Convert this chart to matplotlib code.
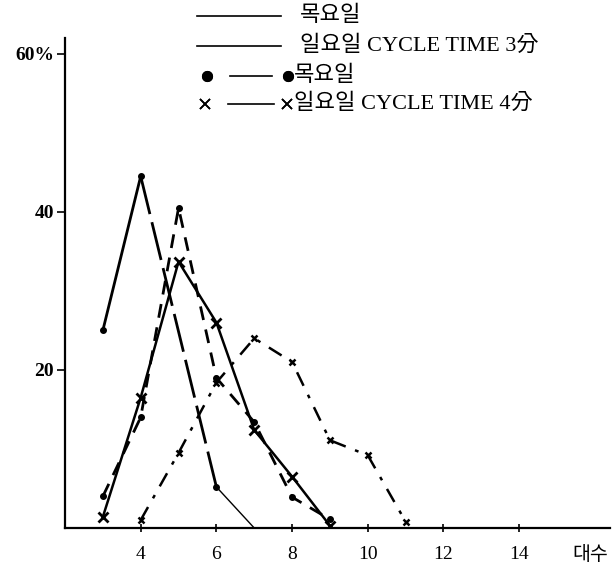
"""
Share of trips by number of vehicles (대수), thursday vs sunday,
for cycle time 3 and 4 minutes. Recreated from a scanned figure.
"""
import matplotlib
matplotlib.use('Agg')
import matplotlib.pyplot as plt

FONTS = ['Liberation Serif', 'Noto Sans CJK KR']

# thursday, cycle time 3 min (solid, small dots)
thu3_x = [3, 4, 6, 7]
thu3_y = [25, 44.5, 5.2, 0]
# sunday, cycle time 3 min (dash-dot)
sun3_x = [4, 5, 6, 7, 8, 9, 10, 11]
sun3_y = [1, 9.5, 18.4, 24, 21, 11.1, 9.2, 0.8]
# thursday, cycle time 4 min (dashed, dots)
thu4_x = [3, 4, 5, 6, 7, 8, 9]
thu4_y = [4, 14, 40.5, 19, 13.4, 3.9, 1.1]
# sunday, cycle time 4 min (solid, crosses)
sun4_x = [3, 4, 5, 6, 7, 8, 9]
sun4_y = [1.4, 16.5, 33.7, 26, 12.4, 6.5, 0.3]

xticks = [4, 6, 8, 10, 12, 14]
yticks = [20, 40, 60]
ytick_labels = ['20', '40', '60%']

W, H = 613, 568
fig = plt.figure(figsize=(W / 100, H / 100), dpi=100)
ax = fig.add_axes([65 / W, 1 - 528 / H, 545 / W, 490 / H])
ax.set_xlim(2, 16.4)
ax.set_ylim(0, 62)

k = 'black'
# thursday 3 min: solid up, long dash down, thin tail
ax.plot(thu3_x[:2], thu3_y[:2], color=k, lw=2)
ax.plot(thu3_x[1:3], thu3_y[1:3], color=k, lw=2, dashes=(14, 3))
ax.plot(thu3_x[2:], thu3_y[2:], color=k, lw=1)
ax.plot(thu3_x[:3], thu3_y[:3], 'o', color=k, ms=4)

ax.plot(sun3_x, sun3_y, color=k, lw=1.8, dashes=(6, 4, 1.5, 4),
        marker='x', ms=5, mew=1.8)
ax.plot(thu4_x, thu4_y, color=k, lw=2, dashes=(5, 3.5),
        marker='o', ms=4)
ax.plot(sun4_x, sun4_y, color=k, lw=1.8, marker='x', ms=7, mew=2)

for s in ['top', 'right']:
    ax.spines[s].set_visible(False)
for s in ['left', 'bottom']:
    ax.spines[s].set_linewidth(1.6)
ax.set_xticks(xticks)
ax.set_xticklabels([str(t) for t in xticks], family=FONTS, fontsize=14)
ax.set_yticks(yticks)
ax.set_yticklabels(ytick_labels, family=FONTS, fontsize=14, fontweight='bold')
ax.tick_params(axis='x', direction='inout', length=6, width=1.2, pad=10)
ax.tick_params(axis='y', direction='out', length=6, width=1.2, pad=2)

# x unit label
fig.text(590 / W, 1 - 555 / H, '대수', family=FONTS, fontsize=14,
         ha='center', va='center')

# hand-drawn style legend at the top
def px(x, y):
    return x / W, 1 - y / H

rows = [16, 46, 76, 104]
fs = 16
fig.add_artist(plt.Line2D(*zip(px(197, rows[0]), px(281, rows[0])), color=k, lw=1.2))
fig.text(*px(300, rows[0]), '목요일', family=FONTS, fontsize=fs, va='center')
fig.add_artist(plt.Line2D(*zip(px(197, rows[1]), px(281, rows[1])), color=k, lw=1.2))
fig.text(*px(300, rows[1]), '일요일 CYCLE TIME 3分', family=FONTS, fontsize=fs,
         va='center')

fig.add_artist(plt.Line2D(*zip(px(207, rows[2]), px(207, rows[2])), color=k,
                          marker='o', ms=7))
fig.add_artist(plt.Line2D(*zip(px(230, rows[2]), px(272, rows[2])), color=k, lw=1.2))
fig.add_artist(plt.Line2D(*zip(px(288, rows[2]), px(288, rows[2])), color=k,
                          marker='o', ms=7))
fig.text(*px(294, rows[2]), '목요일', family=FONTS, fontsize=fs, va='center')

fig.add_artist(plt.Line2D(*zip(px(205, rows[3]), px(205, rows[3])), color=k,
                          marker='x', ms=7, mew=1.2))
fig.add_artist(plt.Line2D(*zip(px(228, rows[3]), px(274, rows[3])), color=k, lw=1.2))
fig.add_artist(plt.Line2D(*zip(px(287, rows[3]), px(287, rows[3])), color=k,
                          marker='x', ms=7, mew=1.2))
fig.text(*px(294, rows[3]), '일요일 CYCLE TIME 4分', family=FONTS, fontsize=fs,
         va='center')

fig.savefig('out.png', dpi=100)
